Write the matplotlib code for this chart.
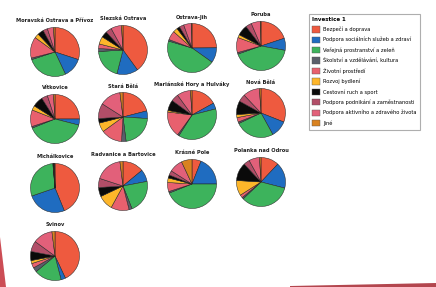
import matplotlib
matplotlib.use("Agg")
import matplotlib.pyplot as plt
from matplotlib.patches import Patch, Polygon

W, H = 436, 287
DPI = 100

districts = [
    "Moravská Ostrava a Přívoz", "Slezská Ostrava", "Ostrava-Jih", "Poruba",
    "Vítkovice", "Stará Bělá", "Mariánské Hory a Hulváky", "Nová Bělá",
    "Michálkovice", "Radvanice a Bartovice", "Krásné Pole", "Polanka nad Odrou",
    "Svinov",
]

categories = [
    "Bezpečí a doprava",
    "Podpora sociálních služeb a zdraví",
    "Veřejná prostranství a zeleň",
    "Školství a vzdělávání, kultura",
    "Životní prostředí",
    "Rozvoj bydlení",
    "Cestovní ruch a sport",
    "Podpora podnikání a zaměstnanosti",
    "Podpora aktivního a zdravého života",
    "Jiné",
]

colors = ["#EE5A3F", "#1F6CC0", "#3DB35C", "#5A5E6A", "#E8606E",
          "#FDB62A", "#0A0A0A", "#B24E68", "#E2607A", "#D98220"]

moravska_ostrava = [30, 13, 27, 1, 14, 3, 4, 3, 4, 1]
slezska_ostrava  = [40, 14, 20, 2, 3, 5, 4, 4, 7, 1]
ostrava_jih      = [25, 10, 45, 1, 6, 3, 2, 3, 5, 0.5]
poruba           = [20, 8, 42, 1, 10, 2, 7, 4, 6, 0.5]
vitkovice        = [25, 4, 40, 1, 11, 3, 7, 4, 4, 1]
stara_bela       = [21, 5, 22, 3, 14, 6, 3, 10, 14, 2]
marianske_hory   = [17, 4, 38, 1, 17, 1, 7, 5, 9, 1]
nova_bela        = [31, 11, 26, 1, 3, 2, 9, 5, 11, 1]
michalkovice     = [44, 26, 29, 0.2, 0.2, 0.2, 0.2, 0.2, 0.2, 0.2]
radvanice        = [14, 8, 22, 2, 12, 10, 6, 6, 18, 2]
krasne_pole      = [6, 19, 44, 1, 6, 3, 2, 3, 9, 7]
polanka          = [12, 17, 34, 1, 2, 10, 12, 4, 7, 1]
svinov           = [43, 3, 18, 3, 3, 2, 6, 7, 13, 2]

values = [moravska_ostrava, slezska_ostrava, ostrava_jih, poruba,
          vitkovice, stara_bela, marianske_hory, nova_bela,
          michalkovice, radvanice, krasne_pole, polanka, svinov]

legend_title = "Investice 1"

fig = plt.figure(figsize=(W / DPI, H / DPI), dpi=DPI)
fig.patch.set_facecolor("white")

col_x = [55, 123, 192, 261]
row_y = [52, 119, 188, 256]
R = 25

for i, (name, vals) in enumerate(zip(districts, values)):
    r, c = divmod(i, 4)
    cx, cy = col_x[c], row_y[r] - c * 2
    ax = fig.add_axes([(cx - R) / W, 1 - (cy + R) / H, 2 * R / W, 2 * R / H])
    ax.pie(vals, colors=colors, startangle=90, counterclock=False,
           wedgeprops=dict(edgecolor="#222222", linewidth=0.35))
    ax.set_aspect("equal")
    ax.set_xlim(-1.02, 1.02)
    ax.set_ylim(-1.02, 1.02)
    fig.text(cx / W, 1 - (cy - R - 6) / H, name, ha="center", va="center",
             fontsize=3.7, fontweight="bold", color="#222222")

handles = [Patch(facecolor=col, edgecolor="#555555", linewidth=0.3) for col in colors]
leg = fig.legend(handles, categories, title=legend_title,
                 loc="upper left", bbox_to_anchor=(306 / W, 1 - 11 / H),
                 fontsize=3.7, title_fontsize=4.0, frameon=True,
                 handlelength=1.5, handleheight=1.5, handletextpad=0.6,
                 labelspacing=0.8, borderpad=0.7, fancybox=False)
leg._legend_box.align = "left"
leg.get_title().set_fontweight("bold")
leg.get_frame().set_edgecolor("#9a9a9a")
leg.get_frame().set_linewidth(0.8)

# photo border accents
fig.patches.append(Polygon([[0, 0], [6 / W, 0], [0, 50 / H]], closed=True,
                           transform=fig.transFigure, facecolor="#C0202A",
                           edgecolor="none", alpha=0.8))
fig.patches.append(Polygon([[290 / W, 0], [1, 0], [1, 4 / H], [290 / W, 1 / H]],
                           closed=True, transform=fig.transFigure,
                           facecolor="#A01822", edgecolor="none", alpha=0.8))

fig.savefig("out.png", dpi=DPI, facecolor="white")
